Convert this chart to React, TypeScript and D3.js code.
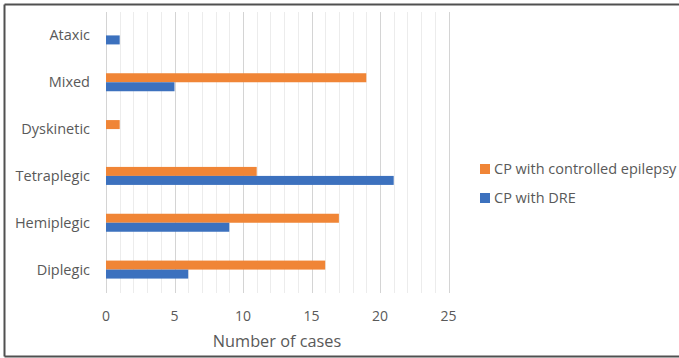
import React from "react";
import * as d3 from "d3";

// Cerebral palsy subtypes, bottom-to-top order as listed in the source table
const categories = ["Diplegic", "Hemiplegic", "Tetraplegic", "Dyskinetic", "Mixed", "Ataxic"];
const controlledEpilepsy = [16, 17, 11, 1, 19, 0];
const dre = [6, 9, 21, 0, 5, 1];
const seriesNames = ["CP with controlled epilepsy", "CP with DRE"];
const xTicks = [0, 5, 10, 15, 20, 25];

const W = 679;
const H = 358;
const FONT = "'Open Sans', 'Liberation Sans', sans-serif";
const ORANGE = "#F08536";
const BLUE = "#3C71BE";
const TEXT = "#595959";

export default function App() {
  const plot = { left: 106, right: 448.5, top: 12, bottom: 293 };
  const x = d3.scaleLinear().domain([0, 25]).range([plot.left, plot.right]);
  // Top row is the last category
  const y = d3
    .scaleBand<string>()
    .domain([...categories].reverse())
    .range([plot.top, plot.bottom]);
  const barH = 9;
  const minorTicks = d3.range(0, 26, 1);

  const rows = categories.map((c, i) => ({
    cat: c,
    orange: controlledEpilepsy[i],
    blue: dre[i],
  }));

  return (
    <svg
      width={W}
      height={H}
      style={{ position: "absolute", left: 0, top: 0, background: "#fff" }}
    >
      {/* outer frame */}
      <line x1={4.5} x2={W} y1={4.5} y2={4.5} stroke="#505050" strokeWidth={2} />
      <line x1={4.5} x2={W} y1={356.5} y2={356.5} stroke="#505050" strokeWidth={2} />
      <line x1={4.5} x2={4.5} y1={4.5} y2={356.5} stroke="#505050" strokeWidth={2} />

      {/* gridlines */}
      {minorTicks.map((t) => (
        <line
          key={"g" + t}
          x1={Math.round(x(t)) + 0.5}
          x2={Math.round(x(t)) + 0.5}
          y1={plot.top}
          y2={plot.bottom}
          stroke={t % 5 === 0 ? "#d4d4d4" : "#ececec"}
          strokeWidth={1}
        />
      ))}

      {/* bars */}
      {rows.map((r) => {
        const cy = (y(r.cat) as number) + y.bandwidth() / 2;
        return (
          <g key={r.cat}>
            {r.orange > 0 && (
              <rect
                x={x(0)}
                y={cy - barH}
                width={x(r.orange) - x(0)}
                height={barH}
                fill={ORANGE}
              />
            )}
            {r.blue > 0 && (
              <rect
                x={x(0)}
                y={cy}
                width={x(r.blue) - x(0)}
                height={barH}
                fill={BLUE}
              />
            )}
            <text
              x={90}
              y={cy}
              dy="0.35em"
              textAnchor="end"
              fontFamily={FONT}
              fontSize={14.5}
              fill={TEXT}
            >
              {r.cat}
            </text>
          </g>
        );
      })}

      {/* x tick labels */}
      {xTicks.map((t) => (
        <text
          key={"t" + t}
          x={x(t)}
          y={321}
          textAnchor="middle"
          fontFamily={FONT}
          fontSize={14}
          fill={TEXT}
        >
          {t}
        </text>
      ))}

      {/* axis title */}
      <text
        x={277}
        y={347}
        textAnchor="middle"
        fontFamily={FONT}
        fontSize={16.3}
        fill={TEXT}
      >
        Number of cases
      </text>

      {/* legend */}
      {seriesNames.map((name, i) => {
        const ly = 169 + i * 29;
        return (
          <g key={name}>
            <rect x={480} y={ly - 5} width={10} height={10} fill={i === 0 ? ORANGE : BLUE} />
            <text
              x={494}
              y={ly}
              dy="0.35em"
              fontFamily={FONT}
              fontSize={14.5}
              fill={TEXT}
            >
              {name}
            </text>
          </g>
        );
      })}
    </svg>
  );
}
